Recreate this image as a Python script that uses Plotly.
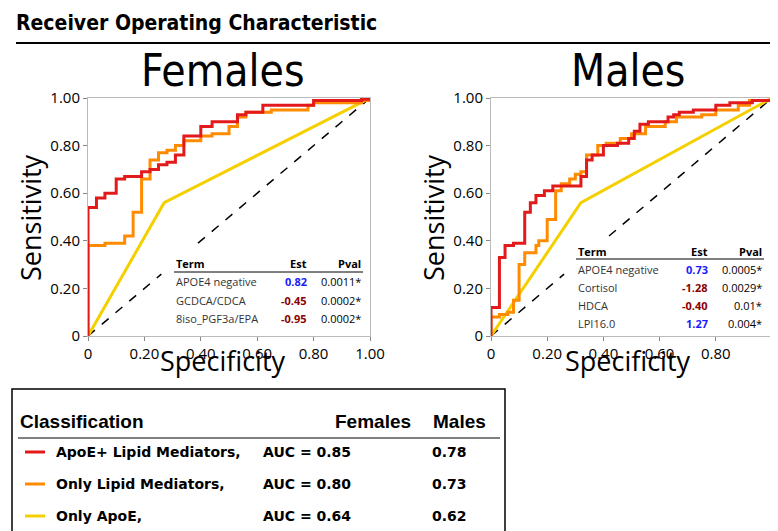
import plotly.graph_objects as go

W, H = 778, 531

RED, ORANGE, YELLOW = "#e31a1c", "#ff8c00", "#f5d000"

# Females ROC (1 - specificity, sensitivity), step vertices
f_red_x = [0, 0, 0.03, 0.06, 0.10, 0.13, 0.19, 0.22, 0.25, 0.28, 0.31, 0.34, 0.40, 0.44, 0.53, 0.56, 0.62, 0.80, 0.97, 1.0]
f_red_y = [0, 0.54, 0.58, 0.60, 0.66, 0.67, 0.69, 0.70, 0.72, 0.73, 0.76, 0.84, 0.88, 0.90, 0.93, 0.94, 0.97, 0.99, 0.995, 1.0]
f_org_x = [0, 0, 0.06, 0.13, 0.16, 0.19, 0.22, 0.25, 0.28, 0.31, 0.34, 0.40, 0.44, 0.50, 0.53, 0.56, 0.65, 0.78, 0.80, 0.97, 1.0]
f_org_y = [0, 0.38, 0.39, 0.42, 0.52, 0.66, 0.74, 0.77, 0.78, 0.80, 0.82, 0.84, 0.85, 0.88, 0.92, 0.94, 0.95, 0.97, 0.98, 0.99, 1.0]
f_yel_x = [0, 0.27, 1.0]
f_yel_y = [0, 0.56, 1.0]

# Males ROC
m_red_x = [0, 0, 0.03, 0.05, 0.08, 0.12, 0.14, 0.16, 0.19, 0.22, 0.32, 0.34, 0.36, 0.40, 0.45, 0.49, 0.51, 0.53, 0.56, 0.63, 0.65, 0.67, 0.72, 0.80, 0.85, 0.93, 1.0]
m_red_y = [0, 0.12, 0.33, 0.38, 0.39, 0.52, 0.56, 0.59, 0.61, 0.63, 0.67, 0.74, 0.76, 0.80, 0.81, 0.83, 0.86, 0.89, 0.90, 0.92, 0.93, 0.94, 0.95, 0.97, 0.98, 0.99, 1.0]
m_org_x = [0, 0, 0.03, 0.06, 0.08, 0.10, 0.12, 0.16, 0.17, 0.20, 0.23, 0.25, 0.28, 0.30, 0.32, 0.34, 0.38, 0.41, 0.46, 0.50, 0.55, 0.62, 0.66, 0.75, 0.80, 0.88, 0.92, 1.0]
m_org_y = [0, 0.08, 0.09, 0.10, 0.15, 0.30, 0.35, 0.38, 0.40, 0.49, 0.61, 0.64, 0.66, 0.68, 0.69, 0.76, 0.80, 0.81, 0.83, 0.85, 0.88, 0.90, 0.92, 0.93, 0.95, 0.97, 0.99, 1.0]
m_yel_x = [0, 0.32, 1.0]
m_yel_y = [0, 0.56, 1.0]

f_terms = ["APOE4 negative", "GCDCA/CDCA", "8iso_PGF3a/EPA"]
f_est = ["0.82", "-0.45", "-0.95"]
f_pval = ["0.0011*", "0.0002*", "0.0002*"]
m_terms = ["APOE4 negative", "Cortisol", "HDCA", "LPI16.0"]
m_est = ["0.73", "-1.28", "-0.40", "1.27"]
m_pval = ["0.0005*", "0.0029*", "0.01*", "0.004*"]

legend_labels = ["ApoE+ Lipid Mediators,", "Only Lipid Mediators,", "Only ApoE,"]
auc_f = ["0.85", "0.80", "0.64"]
auc_m = ["0.78", "0.73", "0.62"]
tick_vals = [0, 0.2, 0.4, 0.6, 0.8, 1.0]
tick_text = ["0", "0.20", "0.40", "0.60", "0.80", "1.00"]


def px(x):
    return x / W


def py(y):
    return 1 - y / H


fig = go.Figure()

for ax, curves, gap in [
    ("", [(f_red_x, f_red_y, RED, "hv"), (f_org_x, f_org_y, ORANGE, "hv"), (f_yel_x, f_yel_y, YELLOW, "linear")], (0.26, 0.39)),
    ("2", [(m_red_x, m_red_y, RED, "hv"), (m_org_x, m_org_y, ORANGE, "hv"), (m_yel_x, m_yel_y, YELLOW, "linear")], (0.26, 0.42)),
]:
    fig.add_trace(go.Scatter(x=[0, gap[0], None, gap[1], 1], y=[0, gap[0], None, gap[1], 1],
                             mode="lines", line=dict(color="black", dash="dash", width=1.5),
                             xaxis="x" + ax, yaxis="y" + ax, showlegend=False, hoverinfo="skip"))
    for xs, ys, c, shape in reversed(curves):
        fig.add_trace(go.Scatter(x=xs, y=ys, mode="lines", line=dict(color=c, width=3, shape=shape),
                                 xaxis="x" + ax, yaxis="y" + ax, showlegend=False))

axis_common = dict(range=[0, 1], tickvals=tick_vals, ticktext=tick_text, showgrid=False, zeroline=False,
                   showline=True, linecolor="#bbbbbb", mirror=True, ticks="outside", ticklen=4,
                   tickcolor="#888", automargin=False,
                   tickfont=dict(family="Open Sans", size=15, color="black"))

fig.update_layout(
    width=W, height=H, margin=dict(l=0, r=0, t=0, b=0, autoexpand=False),
    paper_bgcolor="white", plot_bgcolor="white",
    xaxis=dict(domain=[px(80), px(362)], anchor="y", **axis_common),
    yaxis=dict(domain=[py(328), py(90)], anchor="x", **axis_common),
    xaxis2=dict(domain=[px(483), px(764)], anchor="y2", **axis_common),
    yaxis2=dict(domain=[py(328), py(90)], anchor="x2", **axis_common),
)

ann = []
shapes = []


def text(x, y, s, size, xanchor="left", bold=False, color="black", family="Open Sans", angle=0):
    ann.append(dict(x=px(x), y=py(y), xref="paper", yref="paper", text=("<b>%s</b>" % s) if bold else s,
                    showarrow=False, xanchor=xanchor, yanchor="middle", textangle=angle,
                    font=dict(size=size, color=color, family=family)))


def hline(x0, x1, y, w=1, color="black"):
    shapes.append(dict(type="line", xref="paper", yref="paper", x0=px(x0), x1=px(x1), y0=py(y), y1=py(y),
                       line=dict(color=color, width=w)))


# headers
text(6, 15, "Receiver Operating Characteristic", 21, bold=True, family="DejaVu Sans Condensed")
hline(8, 768, 35, 2)
text(215, 62, "Females", 44, "center", family="DejaVu Sans Condensed")
text(620, 62, "Males", 44, "center", family="DejaVu Sans Condensed")
for cx, ylab in [(215, 22), (620, 425)]:
    text(cx, 352, "Specificity", 27, "center")
    text(ylab, 210, "Sensitivity", 27, "center", angle=-90)


def est_color(v):
    return "#1a1aff" if not v.startswith("-") else "#8b0000"


# inner tables
def table(x0, xe, xp, y0, terms, est, pval):
    text(x0, y0, "Term", 11, bold=True)
    text(xe, y0, "Est", 11, "right", bold=True)
    text(xp, y0, "Pval", 11, "right", bold=True)
    hline(x0, xp, y0 + 8)
    for i, (t, e, p) in enumerate(zip(terms, est, pval)):
        yy = y0 + 18 + i * 18
        text(x0, yy, t, 11, color="#333")
        text(xe, yy, e, 11, "right", bold=True, color=est_color(e))
        text(xp, yy, p, 11, "right")


table(166, 301, 355, 256, f_terms, f_est, f_pval)
table(568, 702, 756, 243, m_terms, m_est, m_pval)

# bottom legend box
shapes.append(dict(type="rect", xref="paper", yref="paper", x0=px(4), x1=px(497), y0=py(527), y1=py(381),
                   line=dict(color="black", width=1.5)))
text(10, 413, "Classification", 19, bold=True, family="Liberation Sans")
text(405, 413, "Females", 19, "right", bold=True, family="Liberation Sans")
text(423, 413, "Males", 19, bold=True, family="Liberation Sans")
hline(10, 492, 430)
for i, (lab, af, am, c) in enumerate(zip(legend_labels, auc_f, auc_m, [RED, ORANGE, YELLOW])):
    yy = 444 + i * 32
    hline(17, 37, yy, 3, c)
    text(46, yy, lab, 14, bold=True, family="DejaVu Sans")
    text(253, yy, "AUC = " + af, 14, bold=True, family="DejaVu Sans")
    text(422, yy, am, 14, bold=True, family="DejaVu Sans")

fig.update_layout(annotations=ann, shapes=shapes)
fig.write_html("out.html")
